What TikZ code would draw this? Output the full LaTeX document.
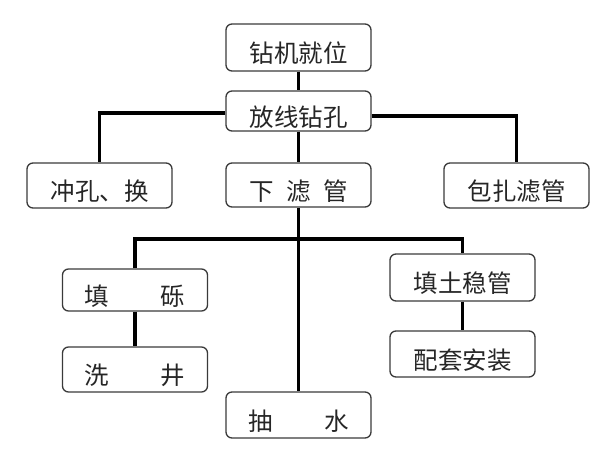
\documentclass[tikz,border=0pt]{standalone}
\usepackage{fontspec}
\usepackage{tikz}
\usetikzlibrary{positioning,calc}
\newfontfamily\cjk{Noto Sans CJK SC}
\definecolor{boxline}{HTML}{3A3A3A}
\definecolor{boxtext}{HTML}{262626}
\tikzstyle{stepbox}=[draw=boxline, line width=1.3pt, rounded corners=6pt,
  minimum width=145pt, minimum height=45pt, inner sep=2pt,
  text height=31pt, text depth=0pt, text=boxtext,
  font=\cjk\fontsize{24.5}{26}\selectfont]
\tikzstyle{link}=[line width=3.2pt, black]

\begin{document}
\begin{tikzpicture}[x=1pt,y=1pt]
\useasboundingbox (0,0) rectangle (600,450);

\node[stepbox, minimum height=47pt] (drill) at (298.5,402.5) {钻机就位};
\node[stepbox, minimum height=40pt] (setout) at (298.5,339) {放线钻孔};
\node[stepbox] (flush) at (99.5,264.5) {冲孔、换};
\node[stepbox, minimum height=44pt] (screen) at (298.5,265) {下\hspace{0.5em}滤\hspace{0.5em}管};
\node[stepbox] (wrap) at (516.5,264.5) {包扎滤管};
\node[stepbox, minimum height=42pt] (gravel) at (135,160) {填\hspace{2.1em}砾};
\node[stepbox] (wash) at (135,80.5) {洗\hspace{2.1em}井};
\node[stepbox, minimum height=46pt] (pump) at (298.5,35) {抽\hspace{2.1em}水};
\node[stepbox, minimum height=47pt] (fill) at (462.5,172.5) {填土稳管};
\node[stepbox, minimum height=46pt] (fit) at (462.5,96) {配套安装};

\coordinate (bar) at (298.5,211);

\draw[link] (drill) edge (setout);
\draw[link] (setout) edge (screen);
\draw[link] ([yshift=-2pt]setout.west) -| (flush.north);
\draw[link] ([yshift=-5pt]setout.east) -| (wrap.north);
\draw[link] (screen) edge (pump);
\draw[link] (gravel.north) |- (bar) -| (fill.north);
\draw[link] (gravel) edge (wash);
\draw[link] (fill) edge (fit);

\end{tikzpicture}
\end{document}
